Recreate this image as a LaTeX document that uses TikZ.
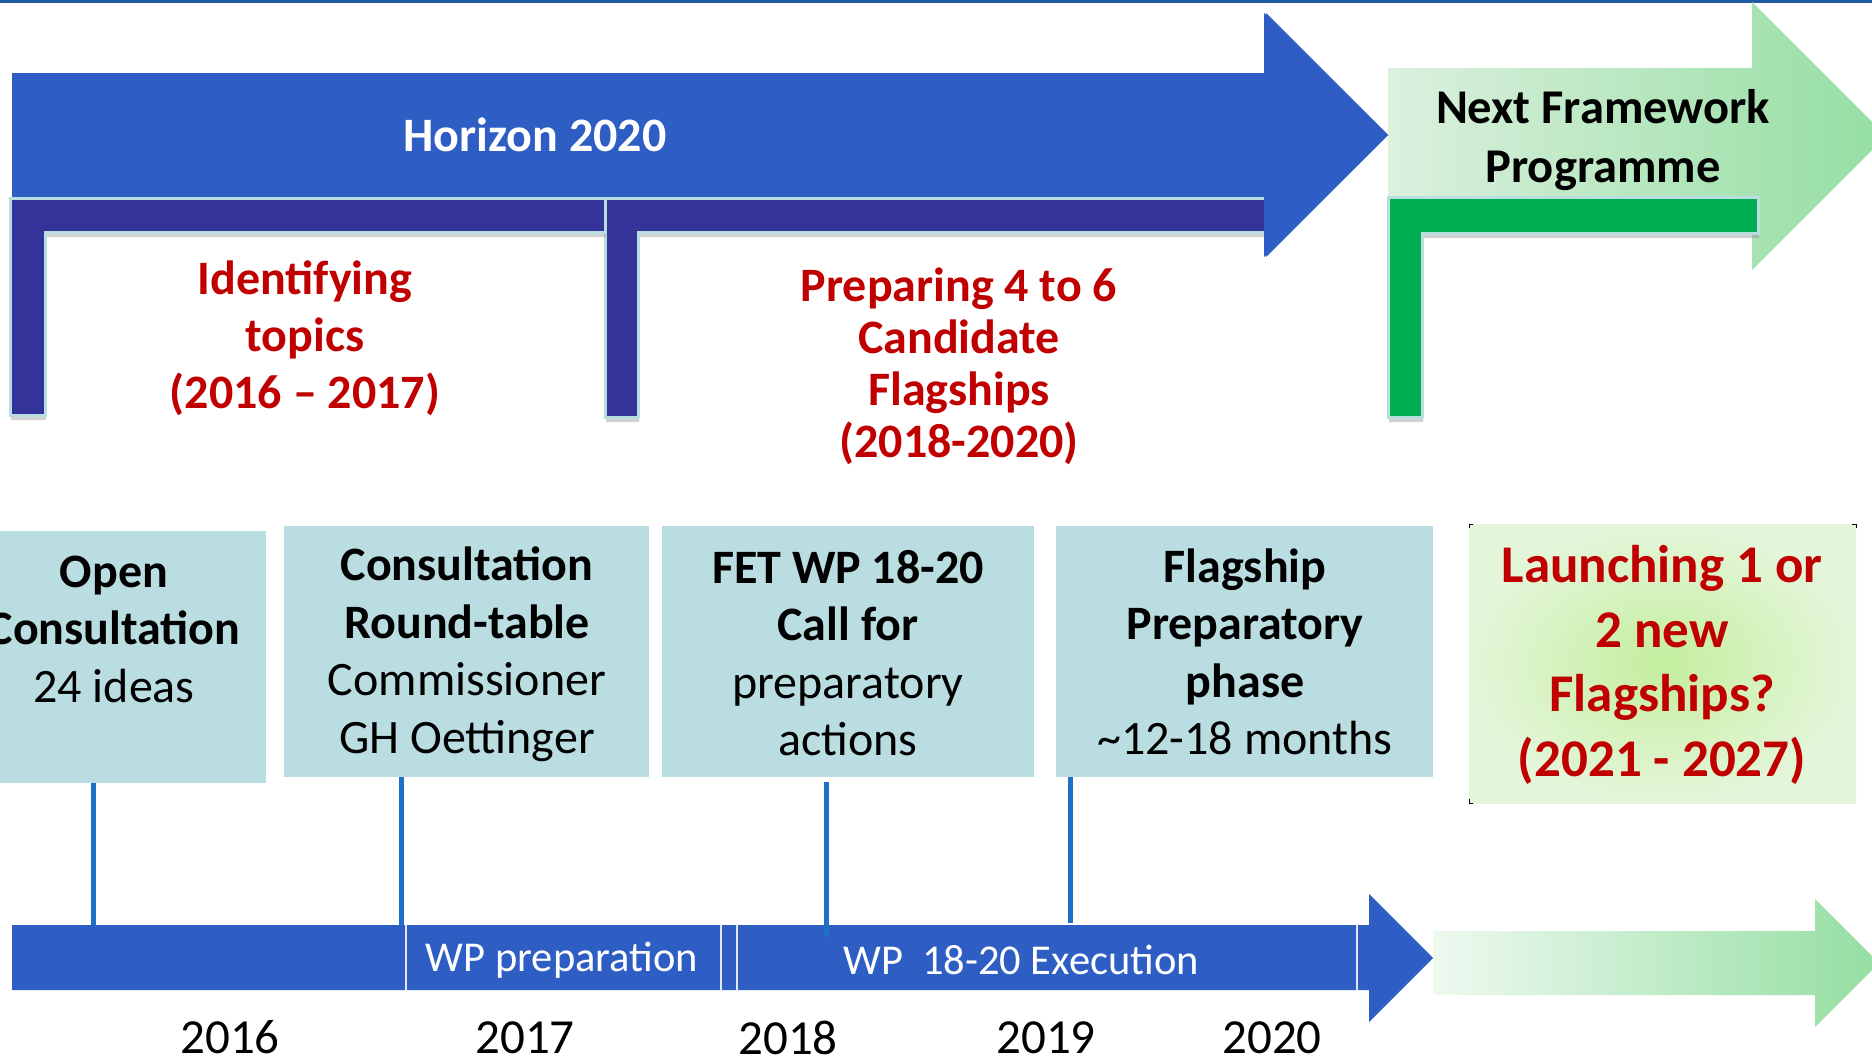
\documentclass[tikz,border=0pt]{standalone}
\usepackage{fontspec}
\setmainfont{Carlito}
\usetikzlibrary{shadows,calc}
\definecolor{hblue}{RGB}{46,94,196}
\definecolor{indigo}{RGB}{51,51,153}
\definecolor{bedge}{RGB}{185,222,226}
\definecolor{boxfill}{RGB}{186,221,225}
\definecolor{dred}{RGB}{192,0,0}
\definecolor{fgreen}{RGB}{0,176,80}
\definecolor{conn}{RGB}{30,112,200}
\definecolor{toprule}{RGB}{31,90,160}
\definecolor{glight}{RGB}{220,240,222}
\definecolor{gdark}{RGB}{148,222,162}
\definecolor{gpale}{RGB}{238,249,240}
\definecolor{rinner}{RGB}{196,238,158}
\definecolor{router}{RGB}{228,246,218}
\newcommand\fsz[2]{\fontsize{#1}{#2}\selectfont}
\begin{document}
\begin{tikzpicture}[x=1pt,y=-1pt,
  bracket/.style={line width=3pt, draw=bedge, line join=miter,
    drop shadow={opacity=0.35, shadow xshift=1pt, shadow yshift=-5pt}},
  lbox/.style={fill=boxfill, draw=none, inner sep=0pt},
  btxt/.style={inner sep=0pt, align=center, font=\fsz{48}{57.5}},
  rtxt/.style={inner sep=0pt, align=center, text=dred},
  year/.style={inner sep=0pt, font=\fsz{49}{52}},
  bartxt/.style={inner sep=0pt, text=white, font=\fsz{42.5}{48}},
  connline/.style={draw=conn, line width=5pt},
  sep/.style={draw=white!85!hblue, line width=1.5pt}]
\useasboundingbox (0,0) rectangle (1872,1061);
\fill[white] (0,0) rectangle (1872,1061);
% top rule
\fill[toprule] (0,0) rectangle (1872,3);
% next framework arrow (green)
\shade[left color=glight, right color=gdark, shading angle=90]
  (1388,68) -- (1752,68) -- (1752,2) -- (1886,136) -- (1752,270) -- (1752,204) -- (1388,204) -- cycle;
% Horizon 2020 arrow
\fill[hblue] (12,73) -- (1266,73) -- (1266,13) -- (1388,135) -- (1266,257) -- (1266,197) -- (12,197) -- cycle;
% brackets
\filldraw[bracket, fill=indigo] (605,198) -- (1266,198) -- (1266,232) -- (638,232) -- (638,417) -- (605,417) -- cycle;
\filldraw[bracket, fill=indigo] (10,198) -- (605,198) -- (605,232) -- (45,232) -- (45,415) -- (10,415) -- cycle;
\fill[hblue] (1264,13) -- (1388,135) -- (1264,257) -- cycle;
\filldraw[bracket, fill=fgreen] (1388,197) -- (1758,197) -- (1758,233) -- (1422,233) -- (1422,417) -- (1388,417) -- cycle;
% top texts
\node[inner sep=0pt, text=white, font=\fsz{48}{57}\bfseries] (h2020) at (535,135) {Horizon 2020};
\node[inner sep=0pt, align=center, font=\fsz{48.5}{59}\bfseries] (nfp) at (1603,140) {Next Framework\\Programme};
\node[rtxt, font=\fsz{48}{57}\bfseries] (ident) at (305,338) {Identifying\\topics\\(2016 – 2017)};
\node[rtxt, font=\fsz{48}{52}\bfseries] (prep) at (959,366) {Preparing 4 to 6\\Candidate\\Flagships\\(2018-2020)};
% boxes
\node[lbox, minimum width=266pt, minimum height=252pt] (b1) at (132.5,657) {};
\node[lbox, minimum width=365pt, minimum height=251pt] (b2) at (466.5,651.5) {};
\node[lbox, minimum width=372pt, minimum height=251pt] (b3) at (848,651.5) {};
\node[lbox, minimum width=377pt, minimum height=251pt] (b4) at (1244.5,651.5) {};
\shade[inner color=rinner, outer color=router] (1469,524) rectangle (1856,803);
\node[inner sep=0pt, minimum width=387pt, minimum height=279pt] (b5) at (1662.5,663.5) {};
\draw[black, line width=0.8pt] (1469,528) -- (1469,524) -- (1473,524);
\draw[black, line width=0.8pt] (1852,524) -- (1856,524) -- (1856,528);
\draw[black, line width=0.8pt] (1469,799) -- (1469,803) -- (1473,803);
% box texts
\node[btxt] (t1) at (114,629) {\textbf{Open}\\\textbf{Consultation}\\24 ideas};
\node[btxt] (t2) at (467,654) {\textbf{Consultation}\\\textbf{Round-table}\\Commissioner\\GH Oettinger};
\node[btxt] (t3) at (848,653) {\textbf{FET WP 18-20}\\\textbf{Call for}\\preparatory\\actions};
\node[btxt] (t4) at (1245,652) {\textbf{Flagship}\\\textbf{Preparatory}\\\textbf{phase}\\\textasciitilde12-18 months};
\node[rtxt, font=\fsz{53}{64.5}\bfseries] (t5) at (1662,665) {Launching 1 or\\2 new\\Flagships?\\(2021 - 2027)};
% bottom timeline bar
\fill[hblue] (12,925) -- (1369,925) -- (1369,894) -- (1433,958) -- (1369,1022) -- (1369,990) -- (12,990) -- cycle;
\shade[left color=gpale, right color=gdark, shading angle=90]
  (1433,931) -- (1815,931) -- (1815,899) -- (1879,963) -- (1815,1027) -- (1815,995) -- (1433,995) -- cycle;
\draw[sep] (406,925) -- (406,990);
\draw[sep] (721,925) -- (721,990);
\draw[sep] (737,925) -- (737,990);
\draw[sep] (1357,925) -- (1357,990);
\node[bartxt] (wpp) at (562,960) {WP preparation};
\node[bartxt] (wpe) at (1021,960) {WP\ \ 18-20 Execution};
% connector end points on the bar
\coordinate (c1) at (93,925);
\coordinate (c2) at (401,925);
\coordinate (c3) at (826,937);
\coordinate (c4) at (1070,923);
\draw[connline] (c1 |- b1.south) -- (c1);
\draw[connline] (c2 |- b2.south) -- (c2);
\draw[connline] ($(c3 |- b3.south)+(0,5)$) -- (c3);
\draw[connline] (c4 |- b4.south) -- (c4);
% years
\node[year] (y16) at (230,1037) {2016};
\node[year] (y17) at (525,1038) {2017};
\node[year] (y18) at (788,1038) {2018};
\node[year] (y19) at (1046,1038) {2019};
\node[year] (y20) at (1272,1038) {2020};
\end{tikzpicture}
\end{document}
